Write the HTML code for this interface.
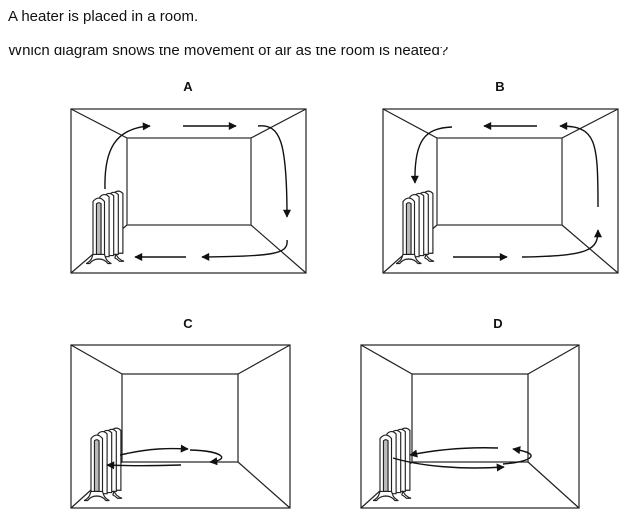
<!DOCTYPE html>
<html><head><style>
body{margin:0;background:#fff;width:624px;height:516px;overflow:hidden}
svg{position:absolute;left:0;top:0}
</style></head><body>
<svg width="624" height="516" viewBox="0 0 624 516" font-family="Liberation Sans, Arial, sans-serif">
<defs>
<marker id="ah" viewBox="0 0 10 10" refX="9" refY="5" markerWidth="11" markerHeight="8" orient="auto" markerUnits="userSpaceOnUse"><path d="M0,0 L10,5 L0,10 z" fill="#111"/></marker>
<g id="rad" fill="#fff" stroke="#222" stroke-width="1">
<path d="M18,3 q4,-4 8,0 v52 h-8z"/>
<path d="M14,4 q4,-4 8,0 v52 h-8z"/>
<path d="M10,5 q4,-4 8,0 v52 h-8z"/>
<path d="M6,6 q4,-4 8,0 v52 h-8z"/>
<path d="M0,10 q5,-6 10,0 v50 h-10z"/>
<path d="M3,12 q2,-2 4,0 v44 h-4z" fill="#bbb"/>
<path d="M-6,64 q4,-2 5,-5 l1,-3 h10 l1,3 q1,3 5,5 l-3,0 q-3,-4 -8,-4 q-5,0 -8,4z"/>
<path d="M20,56 l2,3 q2,2 5,3 h-4 q-2,-2 -4,-3z"/>
</g>
</defs>
<text x="8" y="21" font-size="15" fill="#111">A heater is placed in a room.</text>
<text x="8" y="55" font-size="15" fill="#111">Which diagram shows the movement of air as the room is heated?</text>
<rect x="0" y="39" width="624" height="8" fill="#fff"/>
<g font-size="13" font-weight="bold" text-anchor="middle" fill="#111">
<text x="188" y="91">A</text><text x="500" y="91">B</text>
<text x="188" y="328">C</text><text x="498" y="328">D</text>
</g>
<g fill="none" stroke="#222" stroke-width="1.2">
<rect x="71" y="109" width="235" height="164"/>
<rect x="127" y="138" width="124" height="87" stroke="#555" stroke-width="1.5"/>
<path d="M71,109 L127,138 M306,109 L251,138 M71,273 L127,225 M306,273 L251,225"/>
<rect x="383" y="109" width="235" height="164"/>
<rect x="437" y="138" width="125" height="87" stroke="#555" stroke-width="1.5"/>
<path d="M383,109 L437,138 M618,109 L562,138 M383,273 L437,225 M618,273 L562,225"/>
<rect x="71" y="345" width="219" height="163"/>
<rect x="122" y="374" width="116" height="88"/>
<path d="M71,345 L122,374 M290,345 L238,374 M71,508 L122,462 M290,508 L238,462"/>
<rect x="361" y="345" width="218" height="163"/>
<rect x="412" y="374" width="116" height="88"/>
<path d="M361,345 L412,374 M579,345 L528,374 M361,508 L412,462 M579,508 L528,462"/>
</g>
<use href="#rad" transform="translate(93,190) scale(1.15)"/>
<use href="#rad" transform="translate(403,190) scale(1.15)"/>
<use href="#rad" transform="translate(91,427) scale(1.15)"/>
<use href="#rad" transform="translate(380,427) scale(1.15)"/>
<g fill="none" stroke="#111" stroke-width="1.4" marker-end="url(#ah)">
<path d="M105,189 C104,150 115,128 150,126"/>
<path d="M183,126 L236,126"/>
<path d="M258,126 C280,124 287,140 287,217"/>
<path d="M287,240 C289,255 270,256 202,257"/>
<path d="M186,257 L135,257"/>
<path d="M452,127 C425,128 414,140 415,183"/>
<path d="M537,126 L484,126"/>
<path d="M598,207 C598,140 596,126 560,126"/>
<path d="M522,257 C590,256 598,250 598,230"/>
<path d="M453,257 L507,257"/>
<path d="M120,455 C150,448 170,448 188,449"/>
<path d="M190,450 C225,451 230,460 210,462"/>
<path d="M181,465 C150,466 130,466 107,465"/>
<path d="M498,448 C470,447 440,449 410,455"/>
<path d="M503,464 C530,462 545,454 513,449"/>
<path d="M393,458 C420,466 460,470 504,467"/>
</g>
</svg>
</body></html>
